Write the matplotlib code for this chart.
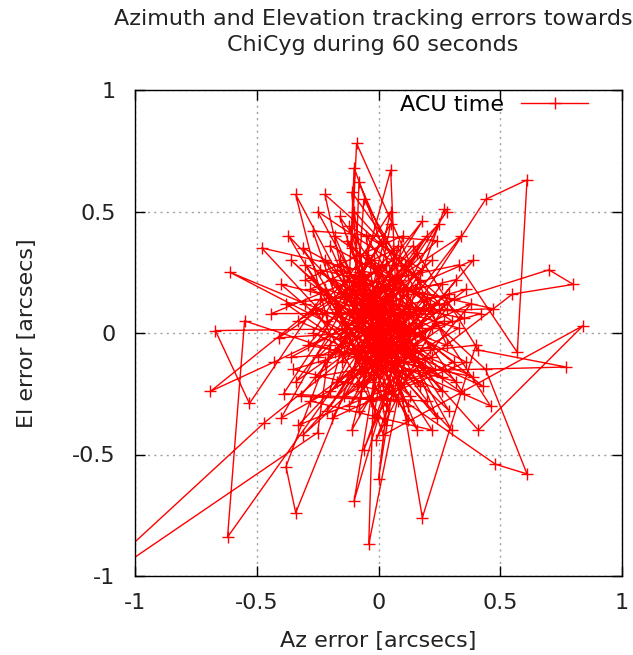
import numpy as np
import matplotlib
matplotlib.use('Agg')
import matplotlib.pyplot as plt

# Az / El tracking errors (arcsecs) in sample order
az_err = [0.02, -0.12, 0.15, -0.05, 0.21, -0.25, 0.08, -0.09, 0.30, -0.18,
          0.12, -0.34, -0.21, 0.05, -0.07, 0.26, -0.30, 0.10, -0.02, 0.38,
          -0.15, 0.03, -0.41, 0.18, -0.08, -0.10, 0.22, -0.28, 0.07, 0.44,
          0.61, 0.57, 0.33, -0.05, 0.14, -0.22, 0.01, -0.38, 0.26, -0.12,
          0.09, -0.47, -1.26, -0.25, -0.20, 0.16, -0.04, 0.35, -0.16, 0.04,
          -0.31, 0.20, -0.06, 0.12, -0.67, -0.53, -0.24, 0.28, -0.09, -0.11,
          0.06, -0.35, 0.42, -0.02, 0.17, -0.13, 0.24, -0.27, 0.02, 0.84,
          0.41, 0.10, -0.19, 0.31, -0.07, 0.05, -0.40, 0.19, -0.14, 0.36,
          -0.03, 0.09, -0.48, -0.23, 0.13, -0.10, 0.00, 0.27, -0.17, 0.07,
          -0.33, 0.46, 0.15, -0.06, -0.09, 0.22, -0.26, 0.04, 0.70, 0.80,
          0.55, 0.11, -0.08, 0.29, -0.36, 0.03, -0.12, 0.18, -0.21, 0.06,
          -0.62, -0.55, -0.04, 0.25, -0.15, 0.39, -0.29, 0.08, -0.11, 0.14,
          -0.04, -0.02, 0.32, -0.18, 0.02, -0.39, 0.20, -0.07, 0.47, -0.24,
          0.10, -0.61, -0.30, 0.16, -0.10, -0.12, 0.23, -0.33, 0.05, 0.34,
          -0.02, 0.12, -0.20, 0.28, -0.08, 0.00, -0.44, 0.19, -0.06, 0.40,
          0.18, 0.08, -0.16, 0.26, -0.27, 0.05, -0.11, 0.36, -0.01, -0.34,
          -0.38, -0.22, 0.11, -0.05, 0.30, -0.13, 0.15, -0.31, 0.02, 0.48,
          0.61, 0.44, 0.06, -0.18, 0.22, -0.09, 0.13, -0.40, 0.01, 0.28,
          0.27, 0.09, -0.14, 0.33, -0.22, 0.04, -0.05, 0.21, -0.36, 0.12,
          0.00, 0.06, -0.25, 0.17, -0.07, 0.39, -0.12, 0.24, -0.02, -0.69,
          -0.43, 0.07, -0.19, 0.31, -0.08, 0.16, -0.30, 0.10, -0.03, 0.77,
          0.41, 0.14, -0.16, 0.25, -0.10, 0.03, -0.26, 0.19, -0.04, 0.35,
          -0.22, -0.13, 0.08, -0.32, 0.20, -0.06, 0.43, -0.17, 0.02, 0.11,
          -0.37, -0.09, 0.29, -0.01, 0.15, -0.28, 0.06, -0.11, -0.08, 0.22,
          -0.20, 0.05, 0.07, -0.14, 0.32, -0.05, 0.18, -0.34, 0.00, 0.12]
el_err = [0.05, 0.18, -0.08, 0.32, 0.12, -0.10, 0.24, -0.22, 0.05, 0.40,
          -0.30, 0.57, 0.05, 0.15, -0.05, -0.18, 0.22, 0.40, -0.35, 0.12,
          -0.12, 0.28, -0.02, 0.02, 0.62, 0.10, -0.40, -0.28, -0.02, 0.55,
          0.63, -0.08, 0.28, 0.20, -0.12, 0.30, -0.15, 0.12, 0.20, -0.30,
          0.08, -0.37, -1.10, -0.41, -0.05, 0.33, 0.02, -0.25, 0.48, -0.10,
          -0.42, 0.15, -0.48, 0.02, 0.01, -0.29, 0.14, -0.05, 0.78, 0.35,
          -0.25, -0.15, 0.08, 0.12, -0.22, 0.02, 0.38, 0.42, -0.42, 0.03,
          -0.40, -0.05, 0.22, 0.14, -0.15, 0.45, -0.35, -0.02, 0.15, -0.12,
          -0.28, 0.22, 0.35, 0.08, 0.10, -0.69, -0.08, 0.05, -0.20, 0.31,
          0.05, -0.30, 0.18, 0.55, 0.12, -0.10, -0.18, 0.05, 0.26, 0.20,
          0.16, -0.18, 0.25, -0.32, 0.30, -0.05, 0.44, 0.26, -0.32, 0.12,
          -0.84, 0.05, -0.12, 0.45, 0.05, -0.18, -0.05, 0.36, -0.40, 0.04,
          -0.87, -0.20, 0.22, 0.10, 0.38, -0.25, -0.28, 0.08, 0.10, 0.26,
          -0.12, 0.25, 0.12, -0.05, 0.68, 0.22, -0.15, -0.38, 0.02, 0.40,
          0.16, -0.36, 0.36, 0.10, -0.32, 0.26, 0.08, 0.08, -0.10, -0.05,
          -0.76, -0.16, 0.30, -0.24, 0.00, 0.50, -0.18, 0.18, 0.08, -0.74,
          -0.55, -0.12, 0.28, -0.03, -0.40, 0.38, 0.10, 0.35, -0.22, -0.54,
          -0.58, -0.15, 0.20, -0.08, 0.30, 0.04, -0.26, 0.20, 0.10, 0.50,
          0.51, 0.00, -0.26, 0.02, 0.18, -0.32, 0.40, -0.06, -0.10, 0.16,
          -0.60, -0.08, 0.50, 0.22, -0.24, 0.30, 0.08, -0.35, 0.30, -0.24,
          -0.12, 0.12, -0.35, -0.12, 0.18, -0.40, 0.28, 0.06, -0.16, -0.14,
          -0.07, 0.36, -0.02, 0.12, 0.50, -0.38, 0.10, -0.14, 0.14, 0.06,
          0.57, 0.16, -0.28, -0.26, 0.40, 0.00, -0.22, 0.26, 0.20, -0.10,
          0.40, -0.08, 0.16, -0.44, 0.00, 0.18, 0.34, 0.58, 0.20, 0.02,
          -0.24, 0.67, 0.20, -0.08, -0.20, 0.10, 0.46, -0.20, 0.04, 0.24]

ticks = [-1, -0.5, 0, 0.5, 1]
tick_labels = ['-1', '-0.5', '0', '0.5', '1']

fs = 16
fig = plt.figure(figsize=(6.33, 6.55), dpi=100)
ax = fig.add_axes([135 / 633, 1 - 576 / 655, 487 / 633, 486 / 655])

ax.plot(az_err, el_err, color='#ff0000', lw=1.0, marker='+', ms=9, mew=1.0,
        label='ACU time', zorder=3)

ax.set_xlim(-1, 1)
ax.set_ylim(-1, 1)
ax.set_xticks(ticks)
ax.set_xticklabels(tick_labels)
ax.set_yticks(ticks)
ax.set_yticklabels(tick_labels)
ax.tick_params(direction='in', length=7, width=1, top=True, right=True,
               labelsize=fs, colors='black', labelcolor='#222222')
ax.tick_params(axis='x', pad=12)
ax.tick_params(axis='y', pad=14)
ax.grid(True, color='#a0a0a0', ls=(0, (1.5, 3)), lw=1)
for s in ax.spines.values():
    s.set_linewidth(1)
    s.set_zorder(5)

ax.set_xlabel('Az error [arcsecs]', fontsize=fs, labelpad=13, color='#222222')
ax.set_ylabel('El error [arcsecs]', fontsize=fs, labelpad=25, color='#222222')
fig.text(373 / 633, 1 - 9 / 655,
         'Azimuth and Elevation tracking errors towards\nChiCyg during 60 seconds',
         ha='center', va='top', fontsize=fs, color='#222222', linespacing=1.35)

ax.legend(loc='upper right', frameon=False, markerfirst=False, fontsize=fs,
          handlelength=3.0, borderaxespad=0, handletextpad=0.8,
          bbox_to_anchor=(1 - 25 / 487, 1 + 4 / 486))

fig.savefig('out.png', dpi=100)
